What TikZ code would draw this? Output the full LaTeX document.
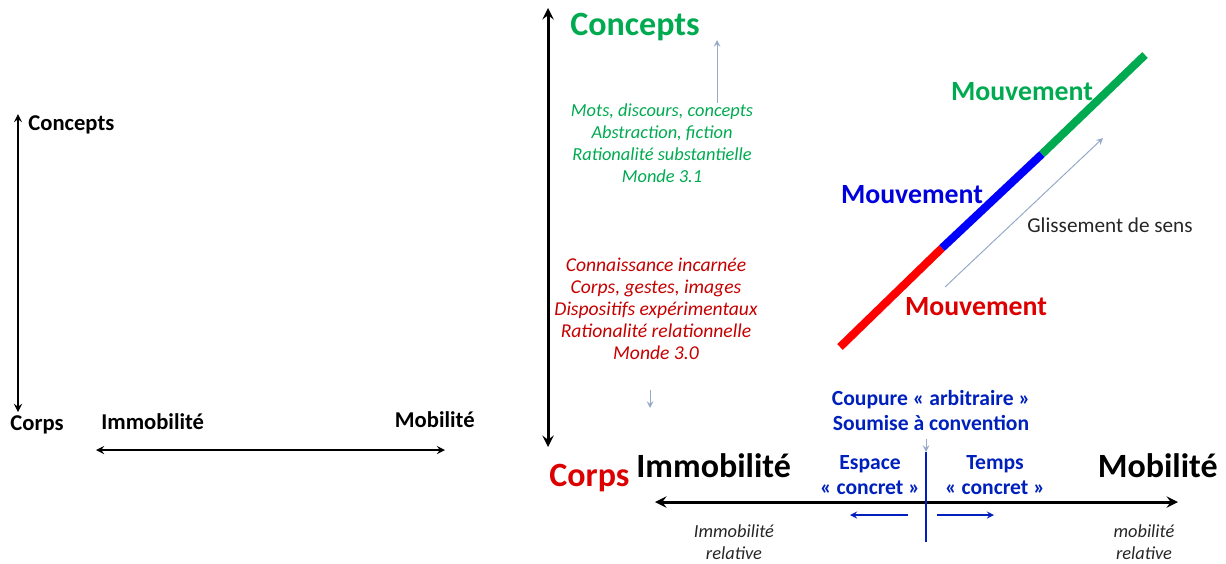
\documentclass[tikz,border=0pt]{standalone}
\usepackage{fontspec}
\setmainfont{Carlito}
\definecolor{cgreen}{RGB}{0,170,80}
\definecolor{cred}{RGB}{220,0,0}
\definecolor{cblue}{RGB}{0,0,220}
\definecolor{cnavy}{RGB}{0,32,190}
\definecolor{cgrey}{RGB}{150,170,200}

\begin{document}
\begin{tikzpicture}[x=0.5pt, y=-0.5pt,
    axistext/.style={font=\bfseries\fontsize{11.3}{13}\selectfont, inner sep=0pt},
    bigtext/.style={font=\bfseries\fontsize{17}{20}\selectfont, inner sep=0pt},
    notetext/.style={font=\itshape\fontsize{9.2}{11}\selectfont, align=center, inner sep=0pt},
    movetext/.style={font=\bfseries\fontsize{13.9}{16}\selectfont, inner sep=0pt},
    cuttext/.style={font=\bfseries\fontsize{10.8}{12.5}\selectfont, text=cnavy, align=center, inner sep=0pt},
    arrow/.style={<->, line width=0.8pt, >=stealth},
    bigarrow/.style={<->, line width=1.5pt, >=stealth},
    hint/.style={->, cgrey, line width=0.5pt, >=stealth},
    segment/.style={line width=4pt}
]
    \useasboundingbox (0,0) rectangle (1226,563);

    % left: first sketch
    \coordinate (ltop) at (18,114);
    \coordinate (lbot) at (18,412);
    \coordinate (lleft) at (96,450);
    \coordinate (lright) at (445,450);
    \node[axistext, anchor=west] (lconcepts) at (28,125) {Concepts};
    \node[axistext, anchor=west] (lcorps) at (10,425) {Corps};
    \node[axistext, anchor=west] (limmo) at (101,422) {Immobilité};
    \node[axistext, anchor=east] (lmobi) at (475,420) {Mobilité};
    \draw[arrow] (lbot) -- (ltop);
    \draw[arrow] (lleft) -- (lright);

    % right: vertical axis
    \coordinate (rtop) at (548,8);
    \coordinate (rbot) at (548,447);
    \draw[bigarrow] (rbot) -- (rtop);
    \node[bigtext, text=cgreen, anchor=west] (rconcepts) at (570,27) {Concepts};
    \node[bigtext, text=cred, anchor=west] (rcorps) at (549,478) {Corps};
    \node[notetext, text=cgreen] (abstract) at (662,143) {Mots, discours, concepts\\Abstraction, fiction\\Rationalité substantielle\\Monde 3.1};
    \node[notetext, text=cred!90!black, font=\itshape\fontsize{9.8}{11}\selectfont] (embodied) at (656,309) {Connaissance incarnée\\Corps, gestes, images\\Dispositifs expérimentaux\\Rationalité relationnelle\\Monde 3.0};
    \coordinate (uptip) at (717,40);
    \coordinate (downtail) at (650,390);
    \coordinate (downtip) at (650,408);
    \draw[hint] (uptip |- abstract.north) -- (uptip);
    \draw[hint] (downtail) -- (downtip);

    % right: horizontal axis
    \coordinate (raxl) at (655,502);
    \coordinate (raxr) at (1178,502);
    \draw[bigarrow] (raxl) -- (raxr);
    \node[bigtext, anchor=west] (rimmo) at (636,466) {Immobilité};
    \node[bigtext, anchor=east] (rmobi) at (1218,466) {Mobilité};
    \node[notetext, text=black!85] (relimmo) at (734,542) {Immobilité\\relative};
    \node[notetext, text=black!85] (relmobi) at (1144,542) {mobilité\\relative};

    % cut
    \node[cuttext] (cut) at (931,410) {Coupure « arbitraire »\\Soumise à convention};
    \node[cuttext] (space) at (870,475) {Espace\\« concret »};
    \node[cuttext] (time) at (995,475) {Temps\\« concret »};
    \coordinate (cuttop) at (926,452);
    \coordinate (cutbot) at (926,542);
    \coordinate (cutmark) at (926,452);
    \draw[cnavy, line width=0.6pt] (cuttop) -- (cutbot);
    \draw[hint] ([yshift=-4pt]cut.south -| cutmark) -- (cutmark);
    \coordinate (spacetail) at (908,515);
    \coordinate (spacetip) at (850,515);
    \coordinate (timetail) at (937,515);
    \coordinate (timetip) at (994,515);
    \draw[->, cnavy, line width=0.6pt, >=stealth] (spacetail) -- (spacetip);
    \draw[->, cnavy, line width=0.6pt, >=stealth] (timetail) -- (timetip);

    % diagonal movement
    \coordinate (m0) at (840,347);
    \coordinate (m1) at (942,248);
    \coordinate (m2) at (1042,154);
    \coordinate (m3) at (1145,55);
    \draw[segment, red] (m0) -- (m1);
    \draw[segment, blue] (m1) -- (m2);
    \draw[segment, cgreen] (m2) -- (m3);
    \node[movetext, text=cgreen] (mgreen) at (1022,92) {Mouvement};
    \node[movetext, text=cblue] (mblue) at (912,195) {Mouvement};
    \node[movetext, text=cred] (mred) at (976,307) {Mouvement};
    \coordinate (sliptail) at (945,287);
    \coordinate (sliptip) at (1103,138);
    \draw[hint] (sliptail) -- (sliptip);
    \node[font=\fontsize{10.6}{12}\selectfont, inner sep=0pt, text=black!85] (slip) at (1110,225) {Glissement de sens};
\end{tikzpicture}
\end{document}
